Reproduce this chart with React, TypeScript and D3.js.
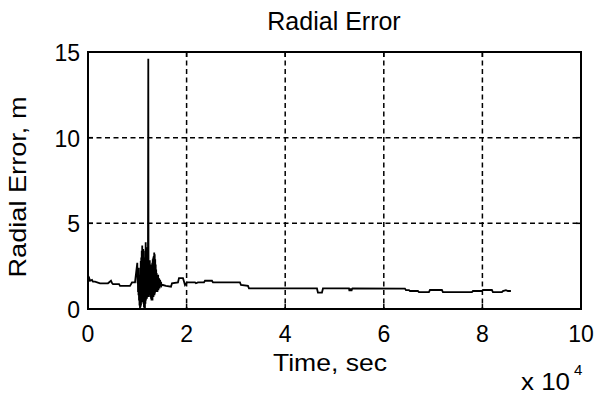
import React from "react";
import * as d3 from "d3";

// Time in seconds, radial error in metres
const earlyTime: number[] = [0, 203, 406, 811, 1000, 1420, 2434, 3448, 4057, 4665, 4900, 5070, 6300, 6490, 7099, 8519, 8924, 9532];
const earlyError: number[] = [1.95, 1.85, 1.65, 1.7, 1.6, 1.6, 1.5, 1.5, 1.5, 1.65, 1.5, 1.45, 1.45, 1.35, 1.35, 1.35, 1.55, 1.55];

const burstTime: number[] = [
  10000, 10050, 10100, 10150, 10200, 10250, 10300, 10350, 10400, 10450, 10500, 10550, 10600, 10650, 10700, 10750,
  10800, 10850, 10900, 10950, 11000, 11050, 11100, 11150, 11200, 11250, 11300, 11350, 11400, 11450, 11500, 11550,
  11600, 11650, 11700, 11750, 11800, 11850, 11900, 11950, 12000, 12050, 12100, 12150, 12228, 12280, 12330, 12380,
  12430, 12480, 12530, 12580, 12630, 12680, 12730, 12780, 12830, 12880, 12930, 12980, 13030, 13080, 13130, 13180,
  13230, 13280, 13330, 13380, 13430, 13480, 13530, 13580, 13630, 13680, 13730, 13780, 13830, 13880, 13930, 13980,
  14030, 14080, 14130, 14180, 14230, 14280, 14330, 14380, 14430, 14480, 14530, 14580, 14630, 14680, 14730, 14780,
  14830, 14900, 15007, 15210,
];
const burstError: number[] = [
  2.7, 1.5, 2.2, 1.0, 2.4, 0.8, 1.9, 0.5, 2.0, 0.2, 1.6, 0.0, 2.4, 0.1, 2.8, 0.2,
  3.0, 0.5, 3.4, 0.4, 3.7, 0.9, 3.3, 0.6, 3.5, 0.3, 2.9, 0.1, 2.6, 0.0, 3.0, 0.0,
  3.4, 0.3, 3.9, 0.5, 3.6, 0.7, 3.2, 0.6, 3.0, 1.0, 2.7, 0.8, 14.6, 0.7, 2.2, 0.9,
  2.6, 0.8, 2.85, 0.9, 2.5, 0.7, 2.6, 0.6, 2.3, 0.5, 2.5, 0.6, 2.7, 0.5, 2.9, 0.7,
  3.0, 0.7, 3.1, 0.8, 3.3, 0.8, 3.2, 0.9, 2.9, 1.0, 2.6, 1.0, 2.3, 1.0, 2.1, 1.1,
  2.0, 1.0, 1.9, 1.1, 2.0, 1.1, 1.8, 1.2, 1.8, 1.2, 1.7, 1.3, 1.7, 1.3, 1.6, 1.35,
  1.55, 1.35, 1.4, 1.4,
];

const lateTime: number[] = [
  15818, 16832, 17035, 18252, 18455, 19266, 19469, 19672, 20077, 21700, 21900, 22300, 23525, 23728, 25147,
  25350, 30826, 31028, 32448, 32650, 46441, 46644, 47455, 47658, 52931, 53033, 53134, 53236, 53337, 53438,
  53540, 53640, 64288, 64491, 65099, 65302, 66924, 67127, 69155, 69358, 71791, 71994, 77875, 78078, 79903,
  80106, 81931, 82134, 83959, 84162, 84770, 85176, 85784,
];
const lateError: number[] = [
  1.35, 1.3, 1.5, 1.55, 1.8, 1.8, 1.6, 1.4, 1.55, 1.55, 1.5, 1.55, 1.55, 1.65, 1.65,
  1.55, 1.55, 1.4, 1.35, 1.2, 1.2, 0.95, 0.95, 1.2, 1.2, 1.05, 1.2, 1.05, 1.2, 1.05,
  1.15, 1.2, 1.19, 1.1, 1.1, 1.05, 1.05, 0.99, 0.99, 1.11, 1.11, 0.99, 0.99, 1.05, 1.05,
  1.11, 1.11, 0.99, 0.99, 1.05, 1.1, 1.05, 1.05,
];

const xTicks: number[] = [0, 20000, 40000, 60000, 80000, 100000];
const xTickLabels: string[] = ["0", "2", "4", "6", "8", "10"];
const yTicks: number[] = [0, 5, 10, 15];
const yTickLabels: string[] = ["0", "5", "10", "15"];

const title = "Radial Error";
const xLabel = "Time, sec";
const yLabel = "Radial Error, m";

const W = 596;
const H = 397;
const L = 88;
const R = 581;
const T = 52;
const B = 309;
const FONT = "'Liberation Sans', Arial, Helvetica, sans-serif";

export default function App() {
  const x = d3.scaleLinear().domain([0, 100000]).range([L, R]);
  const y = d3.scaleLinear().domain([0, 15]).range([B, T]);
  const times = [...earlyTime, ...burstTime, ...lateTime];
  const errs = [...earlyError, ...burstError, ...lateError];
  const pts: [number, number][] = times.map((t, i) => [t, errs[i]]);
  const line = d3
    .line<[number, number]>()
    .x((d) => x(d[0]))
    .y((d) => y(d[1]));

  return (
    <svg
      width={W}
      height={H}
      viewBox={`0 0 ${W} ${H}`}
      style={{ position: "absolute", left: 0, top: 0, background: "#fff" }}
      fontFamily={FONT}
    >
      <rect x={0} y={0} width={W} height={H} fill="#fff" />
      {xTicks.slice(1, -1).map((t) => (
        <line key={"gx" + t} x1={x(t)} x2={x(t)} y1={T} y2={B} stroke="#000" strokeWidth={1.5} strokeDasharray="5,3.5" />
      ))}
      {yTicks.slice(1, -1).map((t) => (
        <line key={"gy" + t} x1={L} x2={R} y1={y(t)} y2={y(t)} stroke="#000" strokeWidth={1.5} strokeDasharray="5,3.5" />
      ))}
      {xTicks.map((t) => (
        <g key={"tx" + t}>
          <line x1={x(t)} x2={x(t)} y1={B} y2={B - 5} stroke="#000" strokeWidth={1.5} />
          <line x1={x(t)} x2={x(t)} y1={T} y2={T + 5} stroke="#000" strokeWidth={1.5} />
        </g>
      ))}
      {yTicks.map((t) => (
        <g key={"ty" + t}>
          <line x1={L} x2={L + 5} y1={y(t)} y2={y(t)} stroke="#000" strokeWidth={1.5} />
          <line x1={R} x2={R - 5} y1={y(t)} y2={y(t)} stroke="#000" strokeWidth={1.5} />
        </g>
      ))}
      <path d={line(pts) || ""} fill="none" stroke="#000" strokeWidth={1.8} strokeLinejoin="miter" />
      <rect x={L} y={T} width={R - L} height={B - T} fill="none" stroke="#000" strokeWidth={2} />
      {xTicks.map((t, i) => (
        <text key={"lx" + t} x={x(t)} y={342} textAnchor="middle" fontSize={23} fill="#000">
          {xTickLabels[i]}
        </text>
      ))}
      {yTicks.map((t, i) => (
        <text key={"ly" + t} x={80} y={y(t) + 9} textAnchor="end" fontSize={23} fill="#000">
          {yTickLabels[i]}
        </text>
      ))}
      <text x={521} y={390} fontSize={23} textLength={49} lengthAdjust="spacingAndGlyphs" fill="#000">x 10</text>
      <text x={574} y={375} fontSize={15} fill="#000">4</text>
      <text x={334} y={30} textAnchor="middle" fontSize={25} fill="#000">{title}</text>
      <text x={330} y={371} textAnchor="middle" fontSize={24} textLength={114} lengthAdjust="spacingAndGlyphs" fill="#000">
        {xLabel}
      </text>
      <text
        transform={`translate(26,187) rotate(-90)`}
        textAnchor="middle"
        fontSize={24}
        textLength={181}
        lengthAdjust="spacingAndGlyphs"
        fill="#000"
      >
        {yLabel}
      </text>
    </svg>
  );
}
